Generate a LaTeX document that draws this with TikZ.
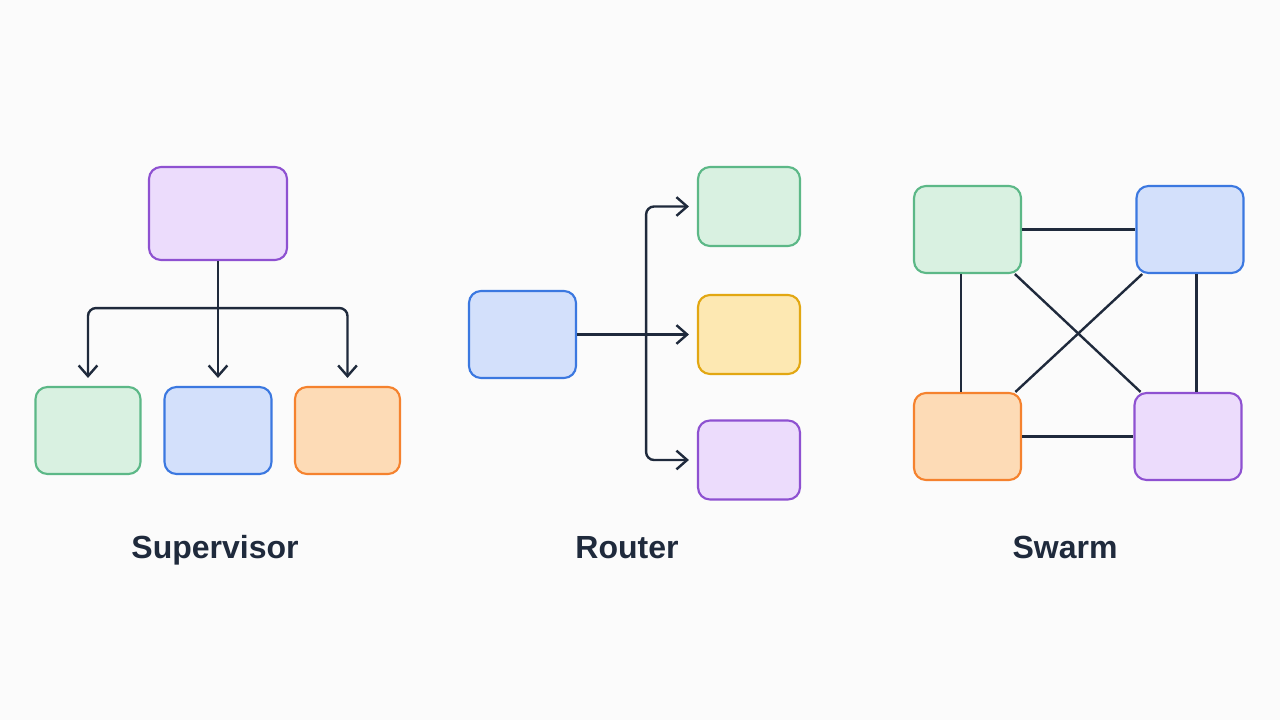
\documentclass[tikz,border=0pt]{standalone}
\usepackage{fontspec}
\setmainfont{Liberation Sans}
\usetikzlibrary{arrows.meta}

\definecolor{bgc}{HTML}{FBFBFB}
\definecolor{ink}{HTML}{1F2A3C}
\definecolor{purpleD}{HTML}{8E51D1}
\definecolor{purpleL}{HTML}{ECDCFC}
\definecolor{greenD}{HTML}{5CB887}
\definecolor{greenL}{HTML}{D9F1E1}
\definecolor{blueD}{HTML}{3B78E0}
\definecolor{blueL}{HTML}{D3E0FB}
\definecolor{orangeD}{HTML}{F5822E}
\definecolor{orangeL}{HTML}{FDDBB6}
\definecolor{yellowD}{HTML}{E2A712}
\definecolor{yellowL}{HTML}{FDE8B2}

\tikzset{every picture/.style={line width=1.8pt}}
\tikzset{
  box/.style={draw, rectangle, rounded corners=9pt, inner sep=0pt, line width=1.6pt},
  boxP/.style={box, draw=purpleD, fill=purpleL},
  boxG/.style={box, draw=greenD, fill=greenL},
  boxB/.style={box, draw=blueD, fill=blueL},
  boxO/.style={box, draw=orangeD, fill=orangeL},
  boxY/.style={box, draw=yellowD, fill=yellowL},
  link/.style={draw=ink, line width=1.8pt},
  arr/.style={link, rounded corners=6pt, shorten >=6pt, -{Straight Barb[length=8pt,width=14pt,line width=1.8pt]}},
  title/.style={text=ink, anchor=base, font=\bfseries\fontsize{24}{28}\selectfont}
}

\begin{document}
\begin{tikzpicture}[x=0.75pt,y=0.75pt,yscale=-1,xscale=1]
\fill[bgc] (0,0) rectangle (1280,720);

%Supervisor
\node[boxP, minimum width=103.5pt, minimum height=69.75pt] (supTop) at (218,213.5) {};
\node[boxG, minimum width=78.75pt, minimum height=65.25pt] (supA) at (88,430.5) {};
\node[boxB, minimum width=80.25pt, minimum height=65.25pt] (supB) at (218,430.5) {};
\node[boxO, minimum width=78.75pt, minimum height=65.25pt] (supC) at (347.5,430.5) {};
\path (supTop.south) -- ++(0,47) coordinate (supJ);
\draw[arr] (supTop.south) -- (supB.north);
\draw[arr] (supJ) -| (supA.north);
\draw[arr] (supJ) -| (supC.north);

%Router
\node[boxB, minimum width=80.25pt, minimum height=65.25pt] (rtIn) at (522.5,334.5) {};
\node[boxG, minimum width=76.5pt, minimum height=59.25pt] (rtA) at (749,206.5) {};
\node[boxY, minimum width=76.5pt, minimum height=59.25pt] (rtB) at (749,334.5) {};
\node[boxP, minimum width=76.5pt, minimum height=59.25pt] (rtC) at (749,460) {};
\path (rtIn.east) -- ++(69,0) coordinate (rtJ);
\draw[arr] (rtIn.east) -- (rtB.west);
\draw[arr] (rtJ) |- (rtA.west);
\draw[arr] (rtJ) |- (rtC.west);

%Swarm
\node[boxG, minimum width=80.25pt, minimum height=65.25pt] (swA) at (967.5,229.5) {};
\node[boxB, minimum width=80.25pt, minimum height=65.25pt] (swB) at (1190,229.5) {};
\node[boxO, minimum width=80.25pt, minimum height=65.25pt] (swC) at (967.5,436.5) {};
\node[boxP, minimum width=80.25pt, minimum height=65.25pt] (swD) at (1188,436.5) {};
\draw[link] (swA.east) -- (swB.west);
\draw[link] (swC.east) -- (swD.west);
\draw[link] ([xshift=-5pt]swA.south) -- ([xshift=-5pt]swC.north);
\draw[link] ([xshift=5pt]swB.south) -- ([xshift=6.5pt]swD.north);
\draw[link] (swA) -- (swD);
\draw[link] (swB) -- (swC);

% Text Node
\node[title] (tSup) at (215,558) {Supervisor};
% Text Node
\node[title] (tRt) at (627,558) {Router};
% Text Node
\node[title] (tSw) at (1065,558) {Swarm};

\end{tikzpicture}
\end{document}
